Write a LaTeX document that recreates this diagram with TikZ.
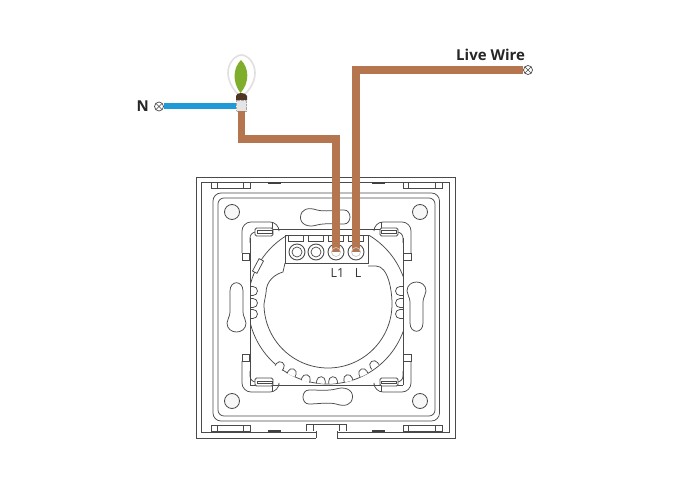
\documentclass[tikz,border=0pt]{standalone}
\usepackage{fontspec}
\setmainfont{Open Sans}
\definecolor{wirebrown}{HTML}{B5764F}
\definecolor{wireblue}{HTML}{1F9AD8}
\definecolor{ink}{HTML}{4A4A4A}
\definecolor{leaf}{HTML}{7FAE2C}
\tikzset{
 plan/.style={draw=ink,line width=0.75pt},
 thin plan/.style={draw=ink,line width=0.6pt},
 brownwire/.style={draw=wirebrown,line width=7.5pt},
 bluewire/.style={draw=wireblue,line width=6pt},
 terminal/.style={circle,draw=ink,line width=0.7pt,minimum size=9pt,inner sep=0pt,fill=white,
   path picture={\draw[ink,line width=0.6pt] (path picture bounding box.north west)--(path picture bounding box.south east)
   (path picture bounding box.north east)--(path picture bounding box.south west);}},
 screw/.style={circle,draw=ink,line width=0.9pt,minimum size=16pt,inner sep=0pt,fill=white},
 screwin/.style={circle,draw=ink,line width=0.7pt,minimum size=10pt,inner sep=0pt},
 hole/.style={circle,draw=ink,line width=0.8pt,minimum size=15pt,inner sep=0pt,fill=black!3},
 bump/.style={plan,fill=white},
 heavy/.style={font=\bfseries\fontsize{15}{16}\selectfont,text=black!85,inner sep=0pt},
 lbl/.style={font=\fontsize{12.5}{13}\selectfont,text=black!80,inner sep=0pt},
}
\begin{document}
\begin{tikzpicture}[x=1pt,y=-1pt]
\useasboundingbox (0,0) rectangle (698,478);
\fill[white] (0,0) rectangle (698,478);
% outer plate
\draw[plan] (316,438) -- (196,438) -- (196,177) -- (455,177) -- (455,438) -- (337,438);
\draw[plan] (316,432) -- (201.5,432) -- (201.5,182) -- (449.5,182) -- (449.5,432) -- (337,432);
\draw[plan] (316,438) -- (316,431) (337,438) -- (337,431);
\draw[plan] (306,431) -- (306,424) -- (346,424) -- (346,431) (313,424) -- (313,431) (339,424) -- (339,431);
\draw[plan,rounded corners=8pt] (213,193) rectangle (439.5,421);
\draw[plan,rounded corners=6pt] (218,198) rectangle (435,416);
% clips
\foreach \a/\b/\c/\d in {211/217/243/250,403/408/435/442}{
  \draw[plan] (\a,182) rectangle (\d,188) (\b,182) -- (\b,188) (\c,182) -- (\c,188);
  \draw[plan] (\a,425) rectangle (\d,431.5) (\b,425) -- (\b,431.5) (\c,425) -- (\c,431.5);
}
\foreach \a in {268,372}{
  \fill[black!75] (\a,182) rectangle (\a+13,184);
  \fill[black!75] (\a,429.5) rectangle (\a+13,431.5);
}
% screw holes
\node[hole] (h1) at (232,212) {};
\node[hole] (h2) at (420,212) {};
\node[hole] (h3) at (232,401) {};
\node[hole] (h4) at (420,401) {};
% keyhole slots (second of each pair is the point reflection)
\foreach \s in {1,-1}{
 \begin{scope}[shift={(326.5,307)},scale=\s,shift={(-326.5,-307)}]
  \draw[plan] (309,390) .. controls (320,390) and (328,391) .. (336,389) .. controls (345,386) and (353,390) .. (352.5,397) .. controls (352,405) and (345,407) .. (336,404) .. controls (328,402) and (318,404) .. (309,404) .. controls (301,404) and (301,390) .. (309,390) -- cycle;
  \draw[plan] (230,291) .. controls (230,280) and (243,280) .. (243,291) -- (243,312) .. controls (243,317) and (246,319) .. (246,323) .. controls (246,335) and (227,335) .. (227,323) .. controls (227,319) and (230,317) .. (230,312) -- cycle;
 \end{scope}
}
% module body
\draw[plan,line width=0.9pt] (250,385) -- (250,238) (403,385) -- (403,238);
\draw[plan,line width=0.9pt] (257,229) -- (396,229);
\draw[plan,line width=0.9pt] (250,385) -- (403,385);
% corner clips
\foreach \sx/\sy in {1/1,-1/1,1/-1,-1/-1}{
 \begin{scope}[shift={(326.5,307)},xscale=\sx,yscale=\sy,shift={(-326.5,-307)}]
  \draw[plan,rounded corners=9pt] (242,253) -- (242,222) -- (279,222) -- (279,229);
  \draw[plan] (242,253) rectangle (249.5,260) (272,222) -- (272,229) -- (279,229);
  \draw[plan,rounded corners=6pt] (250,243) -- (250,232) -- (258,232);
  \draw[plan,fill=white,rounded corners=1.5pt] (255,228) rectangle (273,236);
  \draw[thin plan] (257,230.5) -- (272,230.5) -- (272,233) -- (257,233) -- cycle;
 \end{scope}
}
% outer ring arcs
\begin{scope}
 \clip (250,235.5) rectangle (403,385);
 \draw[plan] (328,304) circle[radius=80];
\end{scope}
% opening
\begin{scope}
 \clip (250,304) rectangle (403,385);
 \draw[plan] (328,304) circle[radius=64];
\end{scope}
\draw[plan] (285,263) -- (283,272) .. controls (276,274) and (266,280) .. (266,293) -- (264,304);
\draw[plan] (392,304) .. controls (392,290) and (388,266) .. (376,266) -- (368,266);
\draw[plan] (285,235) rectangle (368,263);
\draw[plan,fill=white,rotate around={-28:(258,266)}] (255.5,259) rectangle (260.5,273);
\foreach \x/\y/\r in {280/366/-35,292/373/-25,306/379/-15,321/381/-5,333/381/5,348/379/15,363/373/25,374/365/35}{
  \draw[bump,rotate around={\r:(\x,\y)}] (\x-4.3,\y+2.5) -- (\x-4.3,\y) arc[start angle=180,end angle=360,radius=4.3] -- (\x+4.3,\y+2.5);
}
\foreach \y in {291,303,314}{
  \draw[plan] (250,\y-4.5) -- (253,\y-4.5) arc[start angle=-90,end angle=90,radius=4.5] -- (250,\y+4.5);
  \draw[plan] (403,\y-4.5) -- (400,\y-4.5) arc[start angle=-90,end angle=-270,radius=4.5] -- (403,\y+4.5);
}
% terminal block
\foreach \a in {288,308,328,348}{
  \draw[plan] (\a,235) rectangle (\a+15.5,241);
}
\node[screw] (s1) at (297,252) {};
\node[screwin] at (s1) {};
\node[screw] (s2) at (316,252) {};
\node[screwin] at (s2) {};
\node[screw] (s3) at (336,252) {};
\node[screw] (s4) at (356,252) {};
\node[lbl] (l1lab) at (337.5,273) {L1};
\node[lbl] (llab) at (358,273) {L};
% lamp
\draw[draw=black!12,line width=1.6pt,fill=white] (241.5,97) .. controls (232,90) and (228,80) .. (228,73) .. controls (228,62) and (236,55) .. (241.5,55) .. controls (247,55) and (255,62) .. (255,73) .. controls (255,80) and (251,90) .. (241.5,97) -- cycle;
\fill[leaf] (241,60) .. controls (233,68) and (232,82) .. (240.5,93) .. controls (250,82) and (249,68) .. (241,60) -- cycle;
\fill[black!55!wirebrown] (236,96) .. controls (236,92) and (246,92) .. (247,96) -- (247,100) -- (236,100) -- cycle;
\node[draw=black!35,densely dotted,fill=black!10,minimum width=10pt,minimum height=11pt,inner sep=0pt] (lampbase) at (241.5,105.5) {};
% terminals and wires
\node[terminal] (nterm) at (159,106.5) {};
\node[terminal] (live) at (528,70) {};
\coordinate (bend) at (336,139);
\draw[bluewire] (nterm.east) -- (lampbase.west |- nterm);
\draw[brownwire] (lampbase.south) |- (bend) -- (s3.center);
\draw[brownwire] (s4.center) |- (live.west);
\node[screwin,minimum size=9pt,draw=white!70!ink] at (s3) {};
\node[screwin,minimum size=9pt,draw=white!70!ink] at (s4) {};
\node[heavy,anchor=east] (nlab) at (149,106.5) {N};
\node[heavy,anchor=west] (livelab) at (456,55) {Live Wire};
\end{tikzpicture}
\end{document}
